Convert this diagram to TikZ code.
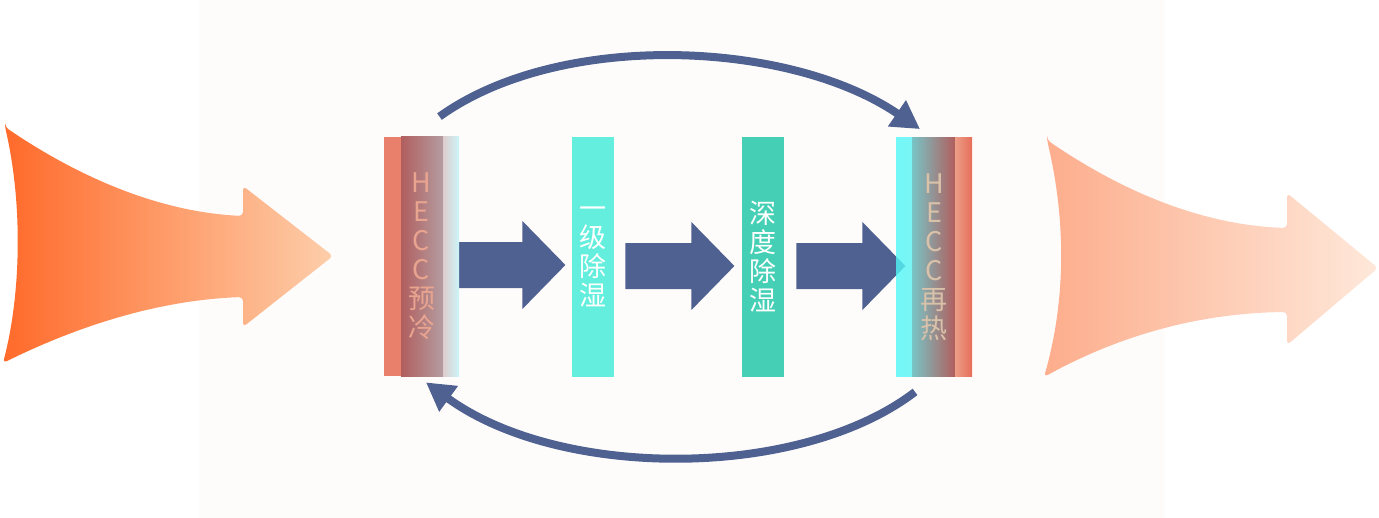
\documentclass[tikz,border=0pt]{standalone}
\usepackage{fontspec}
\newfontfamily\cjk{Noto Sans CJK SC}
\usetikzlibrary{arrows.meta,calc,backgrounds}

\definecolor{flowblue}{RGB}{79,97,144}
\definecolor{panel}{RGB}{254,252,251}
\definecolor{inA}{RGB}{255,106,42}
\definecolor{inB}{RGB}{253,206,170}
\definecolor{outA}{RGB}{253,173,140}
\definecolor{outB}{RGB}{254,232,218}
\definecolor{hotstrip}{RGB}{233,128,107}
\definecolor{hotB}{RGB}{231,110,89}
\definecolor{hotC}{RGB}{236,158,135}
\definecolor{roseA}{RGB}{177,94,94}
\definecolor{roseB}{RGB}{180,157,161}
\definecolor{paleA}{RGB}{222,204,205}
\definecolor{paleB}{RGB}{204,245,249}
\definecolor{cyanA}{RGB}{80,247,247}
\definecolor{cyanB}{RGB}{125,232,232}
\definecolor{tealA}{RGB}{120,196,198}
\definecolor{dryA}{RGB}{99,238,221}
\definecolor{dryB}{RGB}{69,207,181}
\definecolor{preText}{RGB}{233,164,143}
\definecolor{heatText}{RGB}{217,194,169}

% block arrow, given the middle of its left end
\newcommand\flowarrow[1]{\fill[flowblue] #1 ++(0,-23) -- ++(66,0) -- ++(0,-21) -- ++(43,44) -- ++(-43,44) -- ++(0,-21) -- ++(-66,0) -- cycle;}

\begin{document}
\begin{tikzpicture}[x=0.5pt,y=-0.5pt,
        stage/.style={minimum height=119.5pt, inner sep=0pt, text width=20pt, align=center,
            font=\cjk\fontsize{13.5}{14.5}\selectfont},
        drybox/.style={stage, minimum width=21pt, text=white},
        pre/.style={stage, minimum width=37.5pt, text=preText, path picture={
            \fill[hotstrip] (path picture bounding box.north west) rectangle ([xshift=8.5pt]path picture bounding box.south west);
            \shade[left color=roseA, right color=roseB] ([xshift=8.5pt]path picture bounding box.north west) rectangle ([xshift=29.5pt]path picture bounding box.south west);
            \shade[left color=paleA, right color=paleB] ([xshift=29.5pt]path picture bounding box.north west) rectangle (path picture bounding box.south east);
        }},
        reheat/.style={stage, minimum width=38pt, text=heatText, path picture={
            \shade[left color=cyanA, right color=cyanB, opacity=0.8] (path picture bounding box.north west) rectangle ([xshift=8pt]path picture bounding box.south west);
            \shade[left color=tealA, right color=roseA] ([xshift=8pt]path picture bounding box.north west) rectangle ([xshift=29.5pt]path picture bounding box.south west);
            \shade[left color=hotC, right color=hotB] ([xshift=29.5pt]path picture bounding box.north west) rectangle (path picture bounding box.south east);
        }},
        cycleline/.style={draw=flowblue, line width=4pt, -{Triangle[length=14pt,width=15pt]}}
    ]
    \useasboundingbox (0,0) rectangle (1379,518);

    % faint panel behind the unit
    \begin{pgfonlayer}{background}
        \fill[panel] (199,0) rectangle (1165,518);
    \end{pgfonlayer}

    % incoming and outgoing air
    \shade[left color=inA, right color=inB, rounded corners=2pt] (5,127) .. controls (80,178) and (160,212) .. (243,216) -- (243,186) -- (333,256) -- (243,327) -- (243,297) .. controls (160,300) and (80,325) .. (3,363) .. controls (22,290) and (22,200) .. cycle;
    \shade[left color=outA, right color=outB, rounded corners=2pt] (1047,140) .. controls (1120,190) and (1200,225) .. (1287,228) -- (1287,193) -- (1378,268) -- (1287,345) -- (1287,312) .. controls (1200,313) and (1120,335) .. (1044,377) .. controls (1066,300) and (1066,220) .. cycle;

    % stages
    \node[pre] (cool) at (421.5,256.5) {H\\E\\C\\C\\预\\冷};
    \node[drybox, fill=dryA] (dry1) at (593,257) {一\\级\\除\\湿};
    \node[drybox, fill=dryB] (dry2) at (763,257) {深\\度\\除\\湿};
    \node[reheat] (heat) at (934,257) {H\\E\\C\\C\\再\\热};

    % air path through the stages
    \begin{pgfonlayer}{background}
        \flowarrow{($(cool.east)+(-3,8.5)$)}
        \flowarrow{($(dry1.east)+(11,9)$)}
        \flowarrow{($(dry2.east)+(12,9)$)}
    \end{pgfonlayer}

    % heat carried between precool and reheat
    \draw[cycleline] ([shift={(18,-20)}]cool.north) .. controls (560,30) and (790,40) .. ([shift={(-14,-8)}]heat.north);
    \draw[cycleline] ([shift={(-19,15)}]heat.south) .. controls (800,480) and (560,480) .. ([shift={(4.5,6)}]cool.south);
\end{tikzpicture}
\end{document}
